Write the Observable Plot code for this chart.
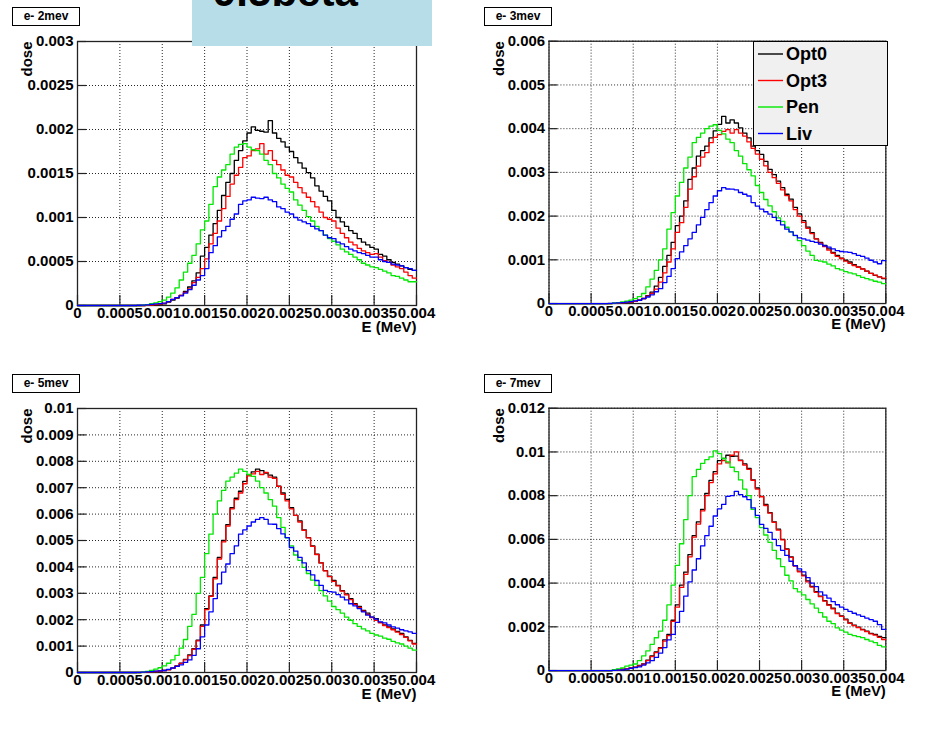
<!DOCTYPE html>
<html>
<head>
<meta charset="utf-8">
<script src="https://cdn.jsdelivr.net/npm/d3@7"></script>
<script src="https://cdn.jsdelivr.net/npm/@observablehq/plot@0.6"></script>
<style>
  body { margin: 0; background: #fff; }
  #wrap { position: relative; width: 937px; height: 730px; overflow: hidden;
          font-family: "Liberation Sans", Arial, Helvetica, sans-serif; font-weight: bold; }
  .panel { position: absolute; }
  .tbox { position: absolute; box-sizing: border-box; width: 68px; height: 19px; border: 1.3px solid #000;
          background: #fff; font-size: 12px; line-height: 16px; text-align: center; z-index: 3; }
  #legend { position: absolute; left: 753px; top: 41px; width: 135px; height: 105px; box-sizing: border-box;
            border: 1.3px solid #000; background: #f0f0f0; z-index: 4; }
  #legend svg { position: absolute; left: 0; top: 0; }
  #vbox { position: absolute; left: 192px; top: 0; z-index: 5; }
</style>
</head>
<body>
<div id="wrap"></div>
<script>
// ---------- data ----------
// Histogram: 80 bins of width 0.00005 MeV over E = 0 .. 0.004 MeV.
// Dose per bin, in units of 1e-6.
const xMin = 0, xMax = 0.004, nBins = 80;
const seriesNames = ["Opt0", "Opt3", "Pen", "Liv"];
const panelTitles = ["e- 2mev", "e- 3mev", "e- 5mev", "e- 7mev"];
const xTicks = [0, 0.0005, 0.001, 0.0015, 0.002, 0.0025, 0.003, 0.0035, 0.004];
const yTicks2mev = [0, 0.0005, 0.001, 0.0015, 0.002, 0.0025, 0.003];
const yTicks3mev = [0, 0.001, 0.002, 0.003, 0.004, 0.005, 0.006];
const yTicks5mev = [0, 0.001, 0.002, 0.003, 0.004, 0.005, 0.006, 0.007, 0.008, 0.009, 0.01];
const yTicks7mev = [0, 0.002, 0.004, 0.006, 0.008, 0.01, 0.012];
const xLabel = "E (MeV)";
const yLabel = "dose";
const bannerText = "9.5beta";

const opt0_2mev = [0,0,0,0,0,0,0,0,0,0,0,0,0,0,0,
  0,3,5,8,12, 20,40,60,85,115, 160,210,280,370,560, 660,800,930,1080,1250, 1400,1500,1650,1760,1870,
  1960,2030,1990,1980,1970, 2100,1960,1900,1860,1800, 1750,1680,1620,1560,1510, 1450,1360,1300,1240,1190,
  1080,1000,950,900,850, 820,760,720,690,660, 640,580,560,520,490, 470,450,430,410,400];
const opt3_2mev = [0,0,0,0,0,0,0,0,0,0,0,0,0,0,0,
  0,3,5,10,15, 25,45,70,90,115, 150,190,260,320,420, 530,700,820,960,1100, 1240,1380,1480,1570,1680,
  1700,1760,1780,1840,1720, 1760,1650,1600,1540,1480, 1460,1400,1340,1280,1230, 1180,1120,1060,1000,980,
  960,880,820,770,720, 690,650,620,600,580, 590,550,510,490,460, 440,420,380,340,310];
const pen_2mev = [0,0,0,0,0,0,0,0,0,0,0,0,0,0,0,
  5,10,20,30,45, 60,95,140,200,290, 380,480,570,700,860, 960,1150,1350,1460,1540, 1600,1720,1800,1830,1840,
  1800,1770,1760,1720,1650, 1600,1500,1450,1380,1330, 1290,1200,1140,1080,1010, 960,900,850,800,760,
  730,690,640,610,580, 550,520,480,460,440, 430,410,390,370,340, 330,310,290,270,270];
const liv_2mev = [0,0,0,0,0,0,0,0,0,0,0,0,0,0,
  3,5,8,12,18, 22,27,45,70,90, 110,140,180,230,290, 340,420,600,680,780, 850,900,980,1040,1150,
  1190,1200,1230,1220,1215, 1230,1200,1180,1120,1100, 1060,1040,1000,970,950, 930,900,870,850,800,
  770,760,720,700,670, 640,620,600,590,570, 550,550,520,500,490, 470,460,450,430,420, 400];

const opt0_3mev = [0,0,0,0,0,0,0,0,0,0,0,0,0,0,0,
  5,10,15,25,35, 50,80,115,180,260, 400,600,850,1100,1400, 1780,2000,2350,2840,3100, 3370,3500,3600,3790,3950,
  4100,4280,4130,4200,4130, 4020,3900,3790,3600,3500, 3410,3250,3070,2950,2800, 2650,2500,2390,2200,2050,
  1895,1750,1620,1480,1400, 1330,1250,1170,1100,1040, 990,950,890,840,795, 740,690,645,610,570];
const opt3_3mev = [0,0,0,0,0,0,0,0,0,0,0,0,0,0,0,
  5,10,15,25,35, 50,80,115,170,230, 330,490,700,950,1250, 1630,1850,2200,2615,2900, 3145,3350,3450,3680,3800,
  3865,3940,3980,3900,3980, 3900,3830,3700,3550,3420, 3300,3150,3000,2880,2750, 2600,2470,2350,2150,2000,
  1855,1720,1600,1480,1380, 1300,1220,1150,1080,1030, 970,920,870,830,790, 740,690,650,610,580];
const pen_3mev = [0,0,0,0,0,0,0,0,0,0,0,0,0,0,0,
  10,20,35,55,80, 110,160,230,380,560, 760,1000,1250,1700,2080, 2460,2770,3100,3350,3680, 3800,3900,4000,4060,4090,
  3960,3880,3760,3680,3500, 3370,3200,3060,2920,2700, 2540,2380,2235,2100,1960, 1880,1745,1640,1555,1440,
  1325,1200,1100,985,970, 950,900,860,800,770, 730,700,680,640,600, 570,540,510,490,455];
const liv_3mev = [0,0,0,0,0,0,0,0,0,0,0,0,0,0,
  5,10,15,20,30, 45,60,75,110,150, 200,270,340,480,620, 800,1025,1180,1325,1480, 1630,1800,1970,2150,2310,
  2460,2580,2650,2620,2615, 2600,2540,2500,2460,2310, 2230,2160,2100,2045,1970, 1895,1800,1700,1640,1560,
  1500,1480,1450,1420,1400, 1360,1320,1290,1250,1210, 1190,1180,1170,1140,1100, 1080,1040,990,950,910, 980];

const opt0_5mev = [0,0,0,0,0,0,0,0,0,0,0,0,0,0,0,
  5,15,25,40,55, 75,110,165,250,350, 500,665,900,1230,1800, 2420,2900,3600,4360,5000, 5600,6240,6600,6865,7240,
  7490,7600,7700,7650,7555, 7480,7400,7055,6800,6555, 6240,5950,5740,5400,5110, 4800,4485,4150,3860,3650,
  3485,3300,3100,2980,2800, 2605,2500,2355,2250,2100, 2040,1900,1800,1730,1650, 1560,1480,1350,1220,1100];
const opt3_5mev = [0,0,0,0,0,0,0,0,0,0,0,0,0,0,0,
  5,12,22,38,55, 75,105,160,240,340, 480,640,880,1200,1750, 2380,2880,3550,4300,4950, 5550,6200,6550,6800,7150,
  7450,7520,7620,7500,7580, 7400,7350,7050,6750,6500, 6200,5950,5700,5380,5100, 4780,4470,4150,3850,3630,
  3450,3280,3080,2940,2760, 2580,2470,2320,2200,2080, 1980,1880,1780,1700,1620, 1530,1440,1330,1200,1080];
const pen_5mev = [0,0,0,0,0,0,0,0,0,0,0,0,0,0,0,
  15,40,80,130,180, 250,350,480,650,920, 1250,1750,2200,3000,3600, 4500,5240,6000,6500,6900, 7250,7400,7550,7700,7620,
  7500,7430,7250,7000,6800, 6550,6300,5870,5500,5100, 4800,4450,4250,3980,3750, 3500,3300,3100,2900,2700,
  2500,2380,2250,2100,1980, 1850,1750,1650,1580,1480, 1420,1380,1300,1260,1180, 1120,1080,1000,920,850];
const liv_5mev = [0,0,0,0,0,0,0,0,0,0,0,0,0,0,
  5,15,25,35,50, 60,75,120,170,230, 290,380,475,650,900, 1350,1800,2300,2800,3360, 3800,4110,4500,4800,5240,
  5400,5550,5700,5800,5865, 5800,5620,5615,5450,5250, 5110,4735,4600,4360,4150, 3860,3700,3485,3300,3110,
  3060,3045,2950,2855,2750, 2605,2520,2420,2300,2170, 2100,2020,1920,1880,1800, 1730,1680,1620,1580,1540, 1480];

const opt0_7mev = [0,0,0,0,0,0,0,0,0,0,0,0,0,0,0,
  10,30,60,90,120, 150,230,300,480,675, 850,1050,1400,1655,2300, 3000,3910,4500,5300,6170, 6800,7370,8100,8700,9100,
  9600,9700,9850,9800,9805, 9625,9450,9250,8720,8350, 7970,7600,7220,6800,6465, 6000,5565,5200,4800,4550,
  4360,4100,3850,3610,3400, 3200,3010,2850,2630,2500, 2350,2180,2080,1980,1880, 1800,1700,1655,1560,1505];
const opt3_7mev = [0,0,0,0,0,0,0,0,0,0,0,0,0,0,0,
  8,25,55,85,115, 140,210,290,450,640, 820,1020,1350,1600,2250, 2900,3800,4400,5200,6100, 6700,7300,8000,8600,9000,
  9450,9600,9500,9850,10000, 9600,9400,9200,8700,8300, 7950,7550,7200,6780,6420, 5980,5540,5180,4780,4520,
  4330,4060,3820,3580,3380, 3180,2990,2820,2600,2480, 2320,2160,2050,1960,1860, 1780,1680,1620,1520,1420];
const pen_7mev = [0,0,0,0,0,0,0,0,0,0,0,0,0,0,0,
  40,75,120,200,250, 300,450,675,900,1200, 1500,1800,2300,3000,3910, 4810,5800,6900,8000,8870, 9200,9475,9650,9775,10050,
  9925,9700,9550,9300,9100, 8720,8300,8000,7370,7000, 6540,6200,5865,5500,5115, 4750,4360,4100,3750,3600,
  3460,3250,3050,2860,2650, 2450,2255,2150,1955,1850, 1760,1655,1600,1550,1505, 1420,1350,1280,1150,1085];
const liv_7mev = [0,0,0,0,0,0,0,0,0,0,0,0,0,0,0,
  10,20,35,60,100, 130,170,250,350,450, 600,800,1050,1400,1655, 2200,2710,3400,4060,4600, 5115,5700,6170,6600,7070,
  7400,7600,7970,8000,8200, 8045,7950,7820,7445,7100, 6690,6500,6320,6000,5715, 5500,5265,5000,4800,4650,
  4510,4250,4000,3835,3600, 3450,3310,3150,3010,2900, 2800,2710,2620,2550,2480, 2400,2330,2255,2100,1880];

// ---------- styles / layout ----------
const seriesColors = {Opt0: "#000000", Opt3: "#ff0000", Pen: "#00e800", Liv: "#0000ff"};
const panelDefs = [
  {title: panelTitles[0], yTicks: yTicks2mev, series: [opt0_2mev, opt3_2mev, pen_2mev, liv_2mev], left: 0, top: 0},
  {title: panelTitles[1], yTicks: yTicks3mev, series: [opt0_3mev, opt3_3mev, pen_3mev, liv_3mev], left: 472, top: 0},
  {title: panelTitles[2], yTicks: yTicks5mev, series: [opt0_5mev, opt3_5mev, pen_5mev, liv_5mev], left: 0, top: 367},
  {title: panelTitles[3], yTicks: yTicks7mev, series: [opt0_7mev, opt3_7mev, pen_7mev, liv_7mev], left: 472, top: 367}
];
const W = 468, H = 360, mL = 77, mR = 52, mT = 41, mB = 55;
const innerW = W - mL - mR, innerH = H - mT - mB;

function histRows(vals) {
  const binW = (xMax - xMin) / nBins;
  const rows = vals.map((v, i) => ({E: xMin + i * binW, dose: v * 1e-6}));
  rows.push({E: xMax, dose: vals[vals.length - 1] * 1e-6});
  return rows;
}

const wrap = document.getElementById("wrap");

panelDefs.forEach((p) => {
  const ymax = p.yTicks[p.yTicks.length - 1];
  const lines = p.series.map((vals, k) =>
    Plot.line(histRows(vals), {x: "E", y: "dose", curve: "step-after",
      stroke: seriesColors[seriesNames[k]], strokeWidth: 1.3}));
  const chart = Plot.plot({
    width: W, height: H,
    marginLeft: mL, marginRight: mR, marginTop: mT, marginBottom: mB,
    x: {domain: [xMin, xMax]},
    y: {domain: [0, ymax]},
    style: {fontFamily: '"Liberation Sans", Arial, Helvetica, sans-serif', fontSize: "15px",
            fontWeight: "bold", color: "#000", background: "transparent", overflow: "visible"},
    marks: [
      Plot.gridX(xTicks, {stroke: "#000", strokeOpacity: 0.85, strokeDasharray: "1,2"}),
      Plot.gridY(p.yTicks, {stroke: "#000", strokeOpacity: 0.85, strokeDasharray: "1,2"}),
      Plot.tickX(xTicks, {x: (d) => d, stroke: "#222", strokeWidth: 1.2, insetTop: innerH - 10}),
      Plot.tickY(p.yTicks, {y: (d) => d, stroke: "#222", strokeWidth: 1.2, insetRight: innerW - 9}),
      Plot.frame({stroke: "#222", strokeWidth: 1.3}),
      ...lines,
      Plot.axisX(xTicks, {anchor: "bottom", tickSize: 0, tickPadding: 2, tickFormat: (d) => String(d), label: null}),
      Plot.axisY(p.yTicks, {anchor: "left", tickSize: 0, tickPadding: 4, tickFormat: (d) => String(d), label: null}),
      Plot.text([xLabel], {text: (d) => d, frameAnchor: "bottom-right", textAnchor: "end", dy: 26}),
      Plot.text([yLabel], {text: (d) => d, frameAnchor: "top-left", textAnchor: "end", rotate: -90, dx: -56})
    ]
  });
  const holder = document.createElement("div");
  holder.className = "panel";
  holder.style.left = p.left + "px";
  holder.style.top = p.top + "px";
  holder.appendChild(chart);
  wrap.appendChild(holder);

  const tb = document.createElement("div");
  tb.className = "tbox";
  tb.style.left = (p.left + 12) + "px";
  tb.style.top = (p.top + 7) + "px";
  tb.textContent = p.title;
  wrap.appendChild(tb);
});

// legend (drawn in the 3 MeV panel)
const ns = "http://www.w3.org/2000/svg";
const legend = document.createElement("div");
legend.id = "legend";
const lsvg = document.createElementNS(ns, "svg");
lsvg.setAttribute("width", 133);
lsvg.setAttribute("height", 103);
seriesNames.forEach((name, k) => {
  const cy = 12 + k * 26.5;
  const ln = document.createElementNS(ns, "line");
  ln.setAttribute("x1", 4); ln.setAttribute("x2", 29);
  ln.setAttribute("y1", cy); ln.setAttribute("y2", cy);
  ln.setAttribute("stroke", seriesColors[name]);
  ln.setAttribute("stroke-width", 1.4);
  lsvg.appendChild(ln);
  const t = document.createElementNS(ns, "text");
  t.setAttribute("x", 32); t.setAttribute("y", cy);
  t.setAttribute("dy", "0.35em");
  t.setAttribute("font-family", '"Liberation Sans", Arial, sans-serif');
  t.setAttribute("font-weight", "bold");
  t.setAttribute("font-size", 18);
  t.textContent = name;
  lsvg.appendChild(t);
});
legend.appendChild(lsvg);
wrap.appendChild(legend);

// light-blue banner at the top (text partly cut off)
const vb = document.createElementNS(ns, "svg");
vb.setAttribute("id", "vbox");
vb.setAttribute("width", 240);
vb.setAttribute("height", 46);
const rect = document.createElementNS(ns, "rect");
rect.setAttribute("width", 240);
rect.setAttribute("height", 46);
rect.setAttribute("fill", "#b7dee8");
vb.appendChild(rect);
const bt = document.createElementNS(ns, "text");
bt.setAttribute("x", 21);
bt.setAttribute("y", 6);
bt.setAttribute("font-family", '"Liberation Sans", Arial, sans-serif');
bt.setAttribute("font-weight", "bold");
bt.setAttribute("font-size", 42);
bt.textContent = bannerText;
vb.appendChild(bt);
wrap.appendChild(vb);
</script>
</body>
</html>
